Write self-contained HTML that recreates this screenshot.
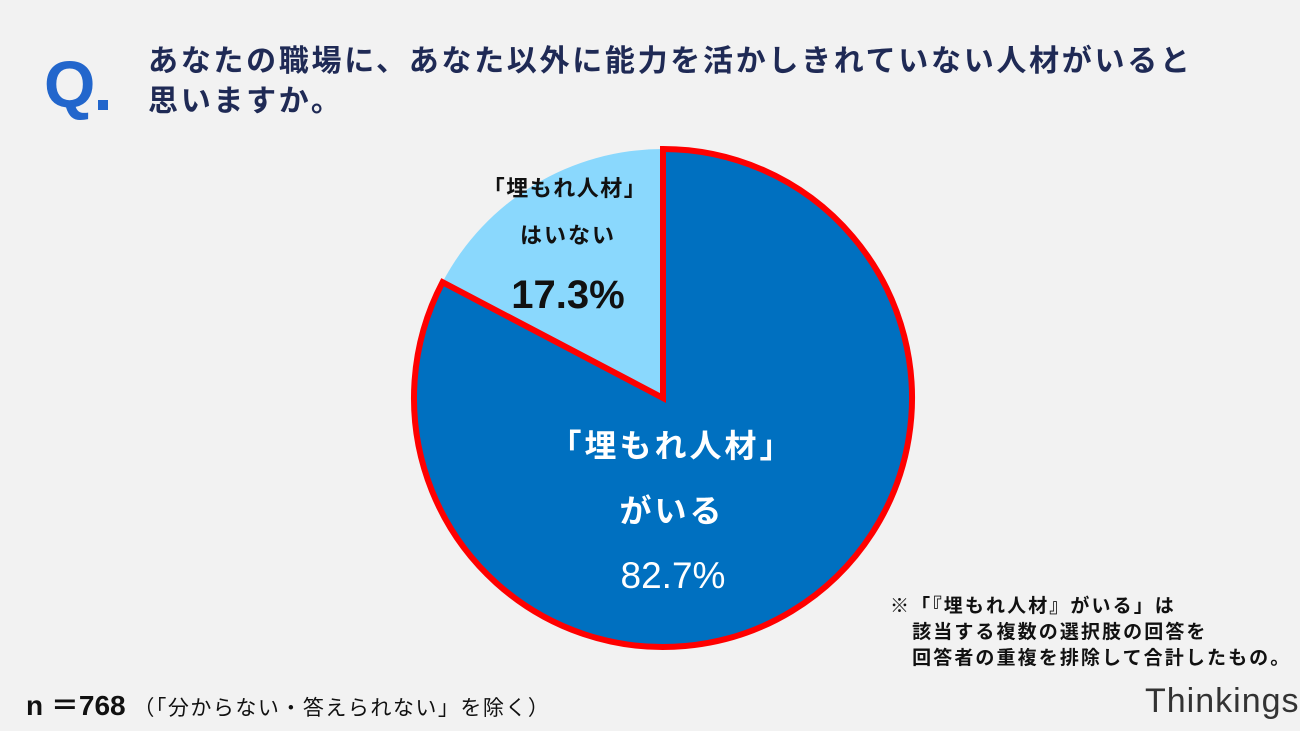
<!DOCTYPE html>
<html><head><meta charset="utf-8"><style>
body{margin:0;width:1300px;height:731px;background:#f2f2f2;overflow:hidden;position:relative;font-family:"Liberation Sans","Noto Sans CJK JP",sans-serif}
.a{position:absolute;white-space:nowrap}
</style></head><body>
<div class="a" style="left:44px;top:46px;font-size:66px;font-weight:bold;color:#2266cc;line-height:76px">Q</div>
<div class="a" style="left:98px;top:100px;width:10px;height:10px;background:#2266cc"></div>
<div class="a" style="left:148px;top:42px;font-size:30px;font-weight:bold;color:#1f2a55;line-height:40px;letter-spacing:2.7px">あなたの職場に、あなた以外に能力を活かしきれていない人材がいると<br>思いますか。</div>
<svg class="a" style="left:0;top:0" width="1300" height="731">
<g id="pie"></g>
<text x="565" y="196" font-size="22" font-weight="bold" text-anchor="middle" fill="#111" letter-spacing="1.5">「埋もれ人材」</text>
<text x="568" y="243" font-size="22" font-weight="bold" text-anchor="middle" fill="#111" letter-spacing="2">はいない</text>
<text id="v1" x="568" y="308" font-size="40" font-weight="bold" text-anchor="middle" fill="#111"></text>
<text x="672" y="457" font-size="32" font-weight="bold" text-anchor="middle" fill="#fff" letter-spacing="3">「埋もれ人材」</text>
<text x="672" y="522" font-size="32" font-weight="bold" text-anchor="middle" fill="#fff" letter-spacing="3">がいる</text>
<text id="v0" x="673" y="588" font-size="37" text-anchor="middle" fill="#fff"></text>
</svg>
<div class="a" style="left:890px;top:594px;font-size:19px;font-weight:bold;color:#111;line-height:26px;letter-spacing:2.1px">※「『埋もれ人材』がいる」は<br>&nbsp;&nbsp;&nbsp;該当する複数の選択肢の回答を<br>&nbsp;&nbsp;&nbsp;回答者の重複を排除して合計したもの。</div>
<div class="a" style="left:26px;top:684px;font-size:28px;font-weight:bold;color:#111">n ＝768 <span style="font-size:21px;font-weight:normal;letter-spacing:1.5px">（「分からない・答えられない」を除く）</span></div>
<div class="a" style="left:1145px;top:682px;font-size:34px;color:#333;letter-spacing:1px">Thinkings</div>
<script>
const categories=["「埋もれ人材」がいる","「埋もれ人材」はいない"];
const values=[82.7,17.3];
const cx=663,cy=398,r=249;
const g=document.getElementById('pie');
const total=values.reduce((a,b)=>a+b,0);
function pt(f){const a=f*2*Math.PI;return [cx+r*Math.sin(a),cy-r*Math.cos(a)];}
let acc=0;
const fills=["#0070c0","#8ad8fd"];
values.forEach((v,i)=>{
 const s=acc/total,e=(acc+v)/total;acc+=v;
 const [x1,y1]=pt(s),[x2,y2]=pt(e);
 const p=document.createElementNS('http://www.w3.org/2000/svg','path');
 p.setAttribute('d',`M${cx},${cy}L${x1},${y1}A${r},${r} 0 ${e-s>0.5?1:0} 1 ${x2},${y2}Z`);
 p.setAttribute('fill',fills[i]);
 if(i===0){p.setAttribute('stroke','#ff0000');p.setAttribute('stroke-width','6');}
 
 
 if(i===0)g.appendChild(p);else g.insertBefore(p,g.firstChild);
});
document.getElementById('v0').textContent=values[0].toFixed(1)+'%';
document.getElementById('v1').textContent=values[1].toFixed(1)+'%';
</script>
</body></html>
